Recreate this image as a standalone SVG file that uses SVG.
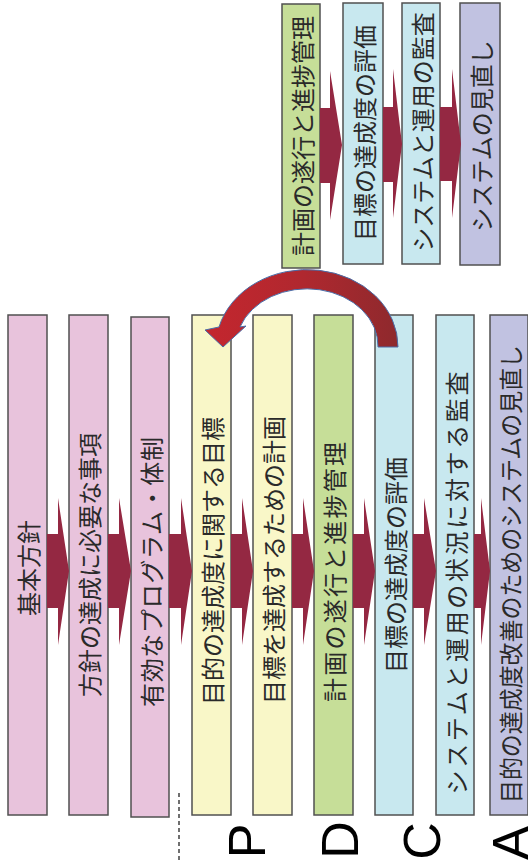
<svg xmlns="http://www.w3.org/2000/svg" width="528" height="861" viewBox="0 0 528 861">
<defs>
<style>
.b{stroke:#505050;stroke-width:1.5}
.pk{fill:#E8C3DC}.yl{fill:#F9F7C8}.gr{fill:#C6DE98}.cy{fill:#C8E8EF}.pu{fill:#C1C2E1}
.t{font-family:"Noto Sans CJK JP","Noto Sans",sans-serif;font-size:24px;fill:#2a2a2a;text-anchor:middle;dominant-baseline:central}
.arr{fill:#942842}
.L{font-family:"Liberation Sans",Arial,sans-serif;font-size:52px;fill:#000;text-anchor:middle}
</style>
<linearGradient id="cg" x1="0" y1="0" x2="1" y2="0">
<stop offset="0" stop-color="#C4262E"/>
<stop offset="0.5" stop-color="#B0282F"/>
<stop offset="1" stop-color="#8E292D"/>
</linearGradient>
</defs>
<rect width="528" height="861" fill="#fff"/>
<g id="main-1"><rect class="b pk" x="8" y="315" width="39" height="500"/><text class="t" transform="translate(27.5,568) rotate(-90)">基本方針</text></g>
<g id="main-2"><rect class="b pk" x="69" y="315" width="39" height="500"/><text class="t" transform="translate(88.5,565) rotate(-90)">方針の達成に必要な事項</text></g>
<g id="main-3"><rect class="b pk" x="131" y="317" width="38" height="500"/><text class="t" transform="translate(150,572) rotate(-90)" textLength="270" lengthAdjust="spacing">有効なプログラム・体制</text></g>
<g id="main-4"><rect class="b yl" x="192" y="315" width="39" height="500"/><text class="t" transform="translate(211.5,561) rotate(-90)">目的の達成度に関する目標</text></g>
<g id="main-5"><rect class="b yl" x="253" y="315" width="39" height="500"/><text class="t" transform="translate(272.5,560) rotate(-90)">目標を達成するための計画</text></g>
<g id="main-6"><rect class="b gr" x="314" y="315" width="39" height="500"/><text class="t" transform="translate(333.5,572) rotate(-90)" textLength="260" lengthAdjust="spacing">計画の遂行と進捗管理</text></g>
<g id="main-7"><rect class="b cy" x="375" y="315" width="38" height="500"/><text class="t" transform="translate(394,565) rotate(-90)">目標の達成度の評価</text></g>
<g id="main-8"><rect class="b cy" x="436" y="315" width="38" height="500"/><text class="t" transform="translate(455,583) rotate(-90)" textLength="423" lengthAdjust="spacing">システムと運用の状況に対する監査</text></g>
<g id="main-9"><rect class="b pu" x="490" y="315" width="38" height="500"/><text class="t" transform="translate(509,574) rotate(-90)" textLength="458" lengthAdjust="spacingAndGlyphs">目的の達成度改善のためのシステムの見直し</text></g>
<g id="top-1"><rect class="b gr" x="282" y="4" width="38" height="264"/><text class="t" transform="translate(301,136) rotate(-90)">計画の遂行と進捗管理</text></g>
<g id="top-2"><rect class="b cy" x="343" y="3" width="40" height="261"/><text class="t" transform="translate(363,133) rotate(-90)">目標の達成度の評価</text></g>
<g id="top-3"><rect class="b cy" x="402" y="3" width="38" height="261"/><text class="t" transform="translate(421,132) rotate(-90)">システムと運用の監査</text></g>
<g id="top-4"><rect class="b pu" x="460" y="3" width="40" height="262"/><text class="t" transform="translate(480,136) rotate(-90)">システムの見直し</text></g>
<g id="connectors">
<path class="arr" d="M47,534H58V498L69,571L58,645V608H47Z"/>
<path class="arr" d="M108,534H119V498L131,571L119,645V608H108Z"/>
<path class="arr" d="M169,534H181V498L192,571L181,645V608H169Z"/>
<path class="arr" d="M231,534H242V498L253,571L242,645V608H231Z"/>
<path class="arr" d="M292,534H303V498L314,571L303,645V608H292Z"/>
<path class="arr" d="M353,534H364V498L375,571L364,645V608H353Z"/>
<path class="arr" d="M413,534H424V498L436,571L424,645V608H413Z"/>
<path class="arr" d="M474,534H481V498L490,571L481,645V608H474Z"/>
<path class="arr" d="M320,108H330V71L342,145L330,220V183H320Z"/>
<path class="arr" d="M383,107H393V69L402,144L393,218V182H383Z"/>
<path class="arr" d="M440,107H452V69L461,144L452,218V181H440Z"/>
<path d="M398,347A91,77 0 0 0 219,327L205,330L223,347L246,326L240,327A71,57 0 0 1 378,347Z" fill="url(#cg)" stroke="#4A6DA8" stroke-width="1"/>
<line x1="179" y1="793" x2="179" y2="861" stroke="#404040" stroke-width="1.5" stroke-dasharray="4 3"/>
</g>
<text class="L" transform="translate(265,841) rotate(-90)">P</text>
<text class="L" transform="translate(358,840) rotate(-90)">D</text>
<text class="L" transform="translate(440,841) rotate(-90)">C</text>
<text class="L" transform="translate(529,843) rotate(-90)">A</text>
</svg>
